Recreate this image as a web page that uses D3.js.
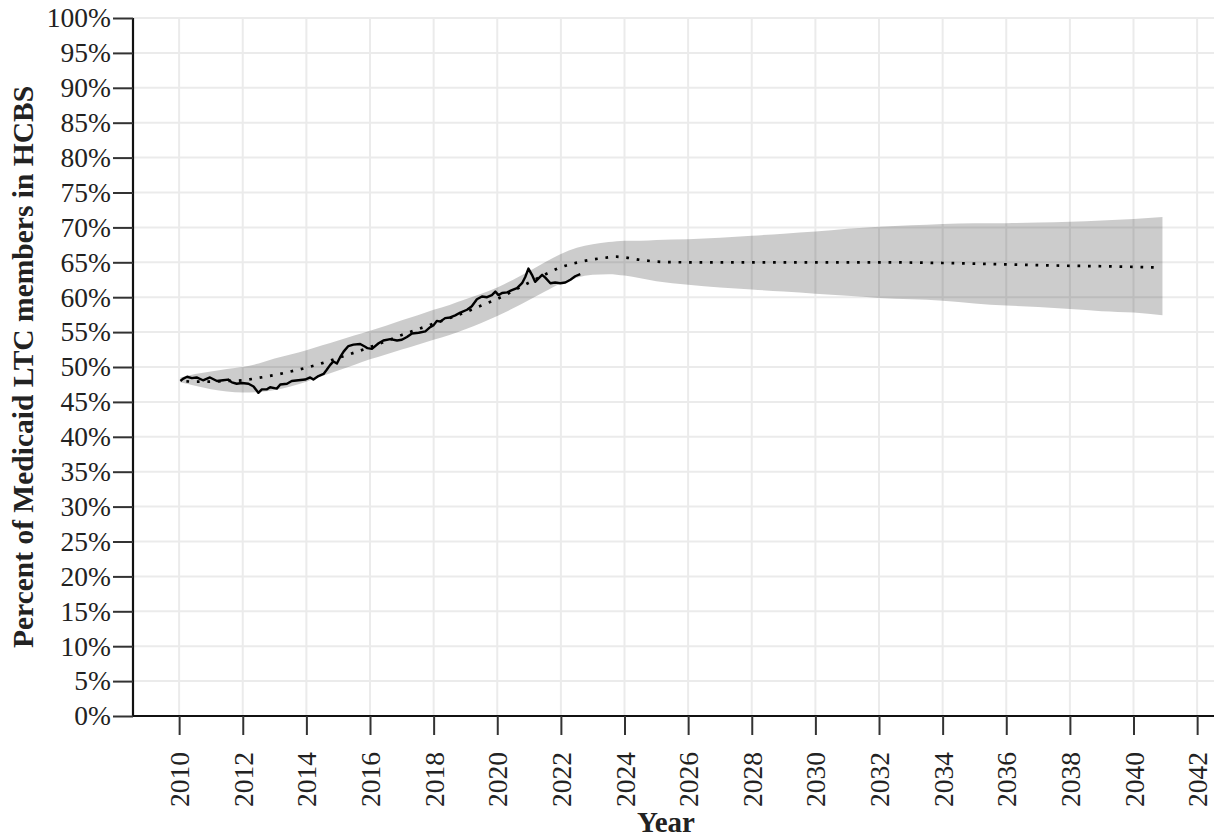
<!DOCTYPE html>
<html>
<head>
<meta charset="utf-8">
<script src="https://cdn.jsdelivr.net/npm/d3@7"></script>
<style>
  html, body { margin: 0; padding: 0; background: #fff; }
  svg { display: block; }
  text { font-family: "Liberation Serif", "Times New Roman", serif; fill: #222; }
</style>
</head>
<body>
<svg id="chart" width="1214" height="840"></svg>
<script>
// Observed share of Medicaid LTC members receiving HCBS (percent)
const obsYears = [2010.04, 2010.12, 2010.25, 2010.40, 2010.55, 2010.75, 2010.97, 2011.19, 2011.38, 2011.54, 2011.66, 2011.81, 2011.97,
  2012.18, 2012.34, 2012.49, 2012.60, 2012.76, 2012.86, 2013.07, 2013.18, 2013.39, 2013.54, 2013.75, 2013.96,
  2014.12, 2014.22, 2014.38, 2014.54, 2014.64, 2014.75, 2014.85, 2014.96, 2015.06, 2015.17, 2015.32, 2015.48,
  2015.69, 2015.85, 2015.92, 2016.06, 2016.27, 2016.42, 2016.64, 2016.85, 2017.00, 2017.16, 2017.32, 2017.53,
  2017.74, 2017.89, 2018.00, 2018.10, 2018.21, 2018.36, 2018.52, 2018.68, 2018.84, 2019.05, 2019.20, 2019.36,
  2019.52, 2019.68, 2019.83, 2019.94, 2020.04, 2020.15, 2020.31, 2020.46, 2020.62, 2020.78, 2020.88, 2020.98,
  2021.09, 2021.19, 2021.30, 2021.41, 2021.51, 2021.67, 2021.82, 2021.98, 2022.14, 2022.30, 2022.45, 2022.61];
const obsValues = [48.0, 48.3, 48.6, 48.4, 48.5, 48.1, 48.5, 48.0, 48.1, 48.2, 47.8, 47.6, 47.7,
  47.6, 47.2, 46.3, 46.8, 46.8, 47.1, 46.9, 47.5, 47.6, 48.0, 48.1, 48.2,
  48.5, 48.2, 48.7, 49.0, 49.6, 50.3, 50.8, 50.5, 51.4, 52.2, 53.0, 53.2,
  53.3, 52.9, 52.7, 52.6, 53.4, 53.8, 54.0, 53.8, 53.9, 54.3, 54.8, 54.9,
  55.1, 55.7, 56.0, 56.6, 56.5, 57.0, 57.1, 57.4, 57.8, 58.2, 58.7, 59.7,
  60.1, 60.0, 60.3, 60.8, 60.3, 60.6, 60.7, 61.0, 61.3, 62.0, 62.9, 64.1,
  63.2, 62.2, 62.7, 63.2, 62.8, 62.0, 62.1, 62.0, 62.1, 62.5, 63.0, 63.3];

// Modelled central estimate (dotted)
const projYears = [2010.04, 2010.5, 2011, 2011.5, 2012, 2012.5, 2013, 2013.5, 2014, 2014.5, 2015, 2015.5, 2016, 2016.5,
  2017, 2017.5, 2018, 2018.5, 2019, 2019.5, 2020, 2020.5, 2021, 2021.5, 2022, 2022.5, 2023, 2023.5, 2023.75, 2024,
  2024.5, 2025, 2025.5, 2026, 2028, 2030, 2032, 2034, 2036, 2038, 2040, 2040.75];
const projValues = [48.0, 47.9, 47.9, 48.0, 48.1, 48.45, 48.85, 49.35, 49.9, 50.55, 51.3, 52.05, 52.85, 53.7,
  54.6, 55.4, 56.2, 57.0, 57.85, 58.8, 59.75, 60.9, 62.1, 63.25, 64.3, 64.95, 65.4, 65.7, 65.8, 65.7,
  65.35, 65.1, 65.02, 65.0, 65.0, 65.0, 65.0, 64.9, 64.7, 64.5, 64.35, 64.25];

// Uncertainty interval around the modelled estimate
const bandYears = [2010.04, 2010.5, 2011, 2011.5, 2012, 2012.5, 2013, 2013.5, 2014, 2014.5, 2015, 2015.5, 2016, 2016.5,
  2017, 2017.5, 2018, 2018.5, 2019, 2019.5, 2020, 2020.5, 2021, 2021.5, 2022, 2022.5, 2023, 2023.5, 2024, 2024.5,
  2025, 2026, 2027, 2028, 2029, 2030, 2031, 2032, 2033, 2034, 2035, 2036, 2037, 2038, 2039, 2040, 2040.91];
const bandLower = [47.8, 47.3, 46.8, 46.5, 46.35, 46.4, 46.7, 47.2, 47.9, 48.7, 49.5, 50.3, 51.1, 51.8,
  52.5, 53.2, 53.9, 54.6, 55.4, 56.3, 57.3, 58.4, 59.6, 60.8, 62.0, 62.8, 63.2, 63.3, 63.1, 62.7,
  62.3, 61.8, 61.4, 61.1, 60.8, 60.5, 60.2, 59.9, 59.7, 59.5, 59.1, 58.8, 58.6, 58.3, 58.0, 57.8, 57.4];
const bandUpper = [48.5, 49.0, 49.35, 49.7, 50.0, 50.5, 51.2, 51.8, 52.4, 53.1, 53.8, 54.5, 55.2, 55.9,
  56.7, 57.4, 58.2, 58.9, 59.7, 60.5, 61.4, 62.5, 63.7, 65.0, 66.2, 67.1, 67.6, 67.9, 68.1, 68.1,
  68.2, 68.3, 68.5, 68.8, 69.1, 69.4, 69.8, 70.1, 70.3, 70.5, 70.6, 70.6, 70.7, 70.8, 71.0, 71.2, 71.5];

const xTickYears = [2010, 2012, 2014, 2016, 2018, 2020, 2022, 2024, 2026, 2028, 2030, 2032, 2034, 2036, 2038, 2040, 2042];
const yTickValues = [0, 5, 10, 15, 20, 25, 30, 35, 40, 45, 50, 55, 60, 65, 70, 75, 80, 85, 90, 95, 100];

const serif = '"Liberation Serif", "Times New Roman", serif';
const svg = d3.select("#chart");
const W = 1214, H = 840;
const m = { left: 133, top: 18, right: 0, bottom: 124 };

const x = d3.scaleLinear().domain([2008.55, 2042.53]).range([m.left, W - m.right]);
const y = d3.scaleLinear().domain([0, 100]).range([H - m.bottom, m.top]);

// grid
const grid = svg.append("g").attr("class", "grid");
grid.selectAll("line.h").data(yTickValues).join("line")
  .attr("x1", m.left).attr("x2", W)
  .attr("y1", d => y(d)).attr("y2", d => y(d))
  .attr("stroke", "#ebebeb").attr("stroke-width", 2);
grid.selectAll("line.v").data(xTickYears).join("line")
  .attr("x1", d => x(d)).attr("x2", d => x(d))
  .attr("y1", y(100)).attr("y2", y(0))
  .attr("stroke", "#ebebeb").attr("stroke-width", 2);

// uncertainty band
const band = bandYears.map((yr, i) => ({ yr, lo: bandLower[i], hi: bandUpper[i] }));
svg.append("path")
  .datum(band)
  .attr("fill", "rgba(0,0,0,0.2)")
  .attr("d", d3.area().x(d => x(d.yr)).y0(d => y(d.lo)).y1(d => y(d.hi)).curve(d3.curveMonotoneX));

// modelled estimate
const proj = projYears.map((yr, i) => ({ yr, v: projValues[i] }));
svg.append("path")
  .datum(proj)
  .attr("fill", "none")
  .attr("stroke", "#000")
  .attr("stroke-width", 2.7)
  .attr("stroke-dasharray", "2.7 7.8")
  .attr("stroke-dashoffset", -6)
  .attr("d", d3.line().x(d => x(d.yr)).y(d => y(d.v)).curve(d3.curveMonotoneX));

// observed series
const obs = obsYears.map((yr, i) => ({ yr, v: obsValues[i] }));
svg.append("path")
  .datum(obs)
  .attr("fill", "none")
  .attr("stroke", "#000")
  .attr("stroke-width", 2.4)
  .attr("stroke-linejoin", "round")
  .attr("d", d3.line().x(d => x(d.yr)).y(d => y(d.v)));

// axes
const yAxis = svg.append("g")
  .attr("transform", `translate(${m.left},0)`)
  .call(d3.axisLeft(y).tickValues(yTickValues).tickFormat(d => d + "%").tickSize(20).tickPadding(2));
const xAxis = svg.append("g")
  .attr("transform", `translate(0,${y(0)})`)
  .call(d3.axisBottom(x).tickValues(xTickYears).tickFormat(d3.format("d")).tickSize(19).tickSizeOuter(0));

[yAxis, xAxis].forEach(g => {
  g.attr("font-family", serif).attr("font-size", 27.5);
  g.select(".domain").attr("stroke", "#111").attr("stroke-width", 2.2);
  g.selectAll(".tick line").attr("stroke", "#333").attr("stroke-width", 2);
  g.selectAll(".tick text")
    .attr("fill", "#222")
    .style("font-family", serif)
    .style("font-size", "27.5px");
});
yAxis.select(".domain").attr("d", `M0,${y(100)}V${y(0)}`);
xAxis.select(".domain").attr("d", `M${m.left},0H${W}`);

xAxis.selectAll(".tick text")
  .attr("transform", "rotate(-90)")
  .attr("text-anchor", "end")
  .attr("dominant-baseline", "central")
  .attr("x", -36)
  .attr("y", 0)
  .attr("dy", null);

// axis titles
svg.append("text")
  .attr("x", 666).attr("y", 832)
  .attr("text-anchor", "middle")
  .style("font-family", serif)
  .style("font-size", "29px").style("font-weight", "bold")
  .text("Year");

svg.append("text")
  .attr("transform", `translate(33,${(y(0) + y(100)) / 2}) rotate(-90)`)
  .attr("text-anchor", "middle")
  .style("font-family", serif)
  .style("font-size", "29.5px").style("font-weight", "bold")
  .text("Percent of Medicaid LTC members in HCBS");
</script>
</body>
</html>
